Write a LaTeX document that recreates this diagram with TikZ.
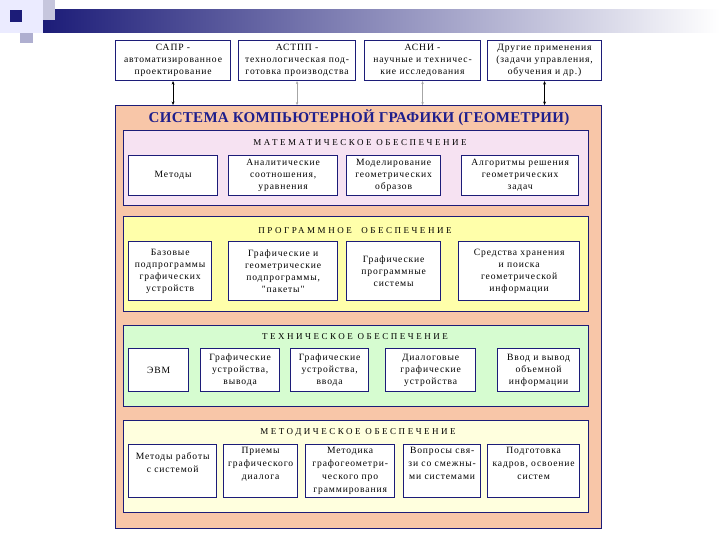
\documentclass[tikz,border=0pt]{standalone}
\usepackage{fontspec}
\setmainfont{Liberation Serif}
\newfontfamily\spaced[LetterSpace=28]{Liberation Serif}
\newfontfamily\boxfont[LetterSpace=9]{Liberation Serif}
\newfontfamily\titlefont[LetterSpace=2]{Liberation Serif}
\usetikzlibrary{arrows.meta}
\definecolor{navy}{RGB}{28,28,120}
\definecolor{titleblue}{RGB}{30,30,140}
\definecolor{peach}{RGB}{248,198,168}
\definecolor{pinkbg}{RGB}{246,226,242}
\definecolor{yellowbg}{RGB}{255,255,170}
\definecolor{greenbg}{RGB}{214,252,208}
\definecolor{creambg}{RGB}{255,255,222}
\tikzset{
  topbox/.style={draw=navy, line width=1.1pt, fill=white, anchor=north west, inner sep=0pt, align=center, font=\boxfont\fontsize{9.6}{11.8}\selectfont},
  cell/.style={draw=navy, line width=1.3pt, fill=white, anchor=north west, inner sep=0pt, align=center, font=\boxfont\fontsize{9.6}{12}\selectfont},
  toptext/.style={label={[anchor=north, yshift=-3pt, inner sep=0pt, align=center, font=\boxfont\fontsize{9.6}{13}\selectfont]north:{#1}}},
  secbox/.style={draw=navy, line width=1pt, anchor=north west, inner sep=0pt},
  sechead/.style={font=\spaced\fontsize{9}{10}\selectfont, inner sep=0pt},
  arr/.style={{Stealth[length=3.5pt,width=3pt]}-{Stealth[length=3.5pt,width=3pt]}, line width=0.8pt},
  farr/.style={{Stealth[length=3pt,width=2.5pt]}-{Stealth[length=3pt,width=2.5pt]}, line width=0.4pt, draw=gray!70}
}
\newcommand{\bx}[6]{\node[#1, minimum width=#4-#3, minimum height=#6-#5] (#2) at (#3,#5)}
\begin{document}
\begin{tikzpicture}[x=1pt,y=-1pt]
\useasboundingbox (0,0) rectangle (720,540);
% header decoration
\shade[left color=navy, right color=white] (43,10) rectangle (720,33);
\fill[blue!8!white] (0,0) rectangle (43,33);
\fill[navy!25!white] (43,0) rectangle (55,20);
\fill[navy!35!white] (20,33) rectangle (33,43);
\fill[navy] (10,10) rectangle (22,22);
% top boxes
\bx{topbox}{a1}{115}{230}{40}{80} {САПР -\\автоматизированное\\проектирование};
\bx{topbox}{a2}{238}{355}{40}{80} {АСТПП -\\технологическая под-\\готовка производства};
\bx{topbox}{a3}{364}{480}{40}{80} {АСНИ -\\научные и техничес-\\кие исследования};
\bx{topbox}{a4}{487}{601}{40}{80} {Другие применения\\(задачи управления,\\обучения и др.)};
% main box
\bx{secbox, fill=peach}{main}{115}{601}{105}{528} {};
\draw[arr] (a1.south) -- (a1.south |- main.north);
\draw[farr] (a2.south) -- (a2.south |- main.north);
\draw[farr] (a3.south) -- (a3.south |- main.north);
\draw[arr] (a4.south) -- (a4.south |- main.north);
\node[font=\titlefont\bfseries\fontsize{15}{16}\selectfont, text=titleblue, inner sep=0pt] (title) at (359,118) {СИСТЕМА КОМПЬЮТЕРНОЙ ГРАФИКИ (ГЕОМЕТРИИ)};
% section 1
\bx{secbox, fill=pinkbg}{s1}{123}{588}{130}{205} {};
\node[sechead] (h1) at (360,143) {МАТЕМАТИЧЕСКОЕ ОБЕСПЕЧЕНИЕ};
\bx{cell}{m1}{128}{217}{155}{195} {Методы};
\bx{cell}{m2}{228}{337}{155}{195} {Аналитические\\соотношения,\\уравнения};
\bx{cell}{m3}{346}{440}{155}{195} {Моделирование\\геометрических\\образов};
\bx{cell}{m4}{461}{578}{155}{195} {Алгоритмы решения\\геометрических\\задач};
% section 2
\bx{secbox, fill=yellowbg}{s2}{123}{588}{216}{311} {};
\node[sechead] (h2) at (355,231) {ПРОГРАММНОЕ \ ОБЕСПЕЧЕНИЕ};
\bx{cell}{p1}{128}{211}{241}{300} {Базовые\\подпрограммы\\графических\\устройств};
\bx{cell}{p2}{228}{337}{241}{300} {Графические и\\геометрические\\подпрограммы,\\"пакеты"};
\bx{cell}{p3}{346}{440}{241}{300} {Графические\\программные\\системы};
\bx{cell}{p4}{458}{579}{241}{300} {Средства хранения\\и поиска\\геометрической\\информации};
% section 3
\bx{secbox, fill=greenbg}{s3}{123}{588}{325}{406} {};
\node[sechead] (h3) at (355,337) {ТЕХНИЧЕСКОЕ ОБЕСПЕЧЕНИЕ};
\bx{cell}{t1}{128}{188}{348}{391} {ЭВМ};
\bx{cell}{t2}{200}{279}{348}{391} {Графические\\устройства,\\вывода};
\bx{cell}{t3}{290}{368}{348}{391} {Графические\\устройства,\\ввода};
\bx{cell}{t4}{385}{475}{348}{391} {Диалоговые\\графические\\устройства};
\bx{cell}{t5}{497}{579}{348}{391} {Ввод и вывод\\объемной\\информации};
% section 4
\bx{secbox, fill=creambg}{s4}{123}{588}{420}{512} {};
\node[sechead] (h4) at (358,432) {МЕТОДИЧЕСКОЕ ОБЕСПЕЧЕНИЕ};
\bx{cell, toptext={\\[-1pt]Методы работы\\с системой}}{d1}{128}{216}{444}{497} {};
\bx{cell, toptext={Приемы\\графического\\диалога}}{d2}{223}{297}{444}{497} {};
\bx{cell, toptext={Методика\\графогеометри-\\ческого про\\граммирования}}{d3}{305}{394}{444}{497} {};
\bx{cell, toptext={Вопросы свя-\\зи со смежны-\\ми системами}}{d4}{403}{480}{444}{497} {};
\bx{cell, toptext={Подготовка\\кадров, освоение\\систем}}{d5}{487}{579}{444}{497} {};
\end{tikzpicture}
\end{document}
